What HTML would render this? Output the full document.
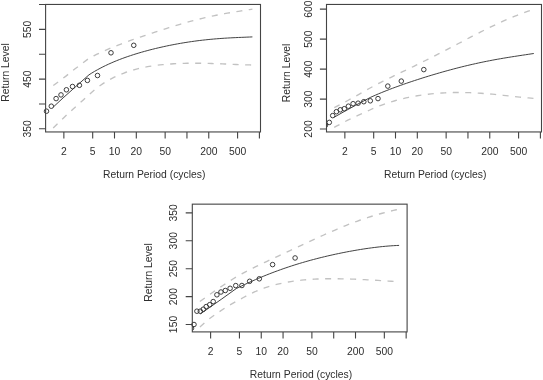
<!DOCTYPE html>
<html lang="en">
<head>
<meta charset="utf-8">
<title>Return level plots</title>
<style>
html,body{margin:0;padding:0;background:#fff;}
body{width:543px;height:380px;overflow:hidden;}
svg{font-family:"Liberation Sans",sans-serif;}
.t{font-size:10.35px;fill:#2e2e2e;}
.ax{fill:none;stroke:#444;stroke-width:1.1;}
.fit{fill:none;stroke:#383838;stroke-width:0.95;stroke-linejoin:round;}
.ci{fill:none;stroke:#c2c2c2;stroke-width:1.35;stroke-dasharray:6 6.5;stroke-linejoin:round;}
.pt{fill:none;stroke:#333;stroke-width:0.95;}
</style>
</head>
<body>
<svg width="543" height="380" viewBox="0 0 543 380" style="display:block">
<rect width="543" height="380" fill="#ffffff"/>
<defs>
<clipPath id="cp0"><rect x="45.6" y="4.45" width="214.90" height="127.50"/></clipPath>
<clipPath id="cp1"><rect x="326.5" y="4.45" width="215.00" height="127.50"/></clipPath>
<clipPath id="cp2"><rect x="192.3" y="204.15" width="214.80" height="127.75"/></clipPath>
</defs>
<g class="panel" id="panel1">
<path class="ci" d="M53.30 85.50 L65.60 76.40 L75.10 68.80 L88.20 58.90 L90.98 57.35 L93.77 55.87 L96.55 54.46 L99.33 53.11 L102.12 51.81 L104.90 50.56 L107.68 49.35 L110.46 48.18 L113.25 47.04 L116.03 45.93 L118.81 44.85 L121.60 43.79 L124.38 42.75 L127.16 41.73 L129.95 40.72 L132.73 39.72 L135.51 38.74 L138.29 37.77 L141.08 36.80 L143.86 35.85 L146.64 34.90 L149.43 33.97 L152.21 33.04 L154.99 32.12 L157.78 31.21 L160.56 30.30 L163.34 29.41 L166.13 28.53 L168.91 27.65 L171.69 26.79 L174.47 25.94 L177.26 25.11 L180.04 24.29 L182.82 23.48 L185.61 22.69 L188.39 21.92 L191.17 21.17 L193.96 20.43 L196.74 19.71 L199.52 19.02 L202.31 18.34 L205.09 17.69 L207.87 17.05 L210.65 16.44 L213.44 15.85 L216.22 15.28 L219.00 14.73 L221.79 14.19 L224.57 13.68 L227.35 13.18 L230.14 12.70 L232.92 12.23 L235.70 11.78 L238.48 11.33 L241.27 10.88 L244.05 10.44 L246.83 10.00 L249.62 9.56 L252.40 9.10"/>
<path class="ci" d="M53.20 127.90 L64.30 117.20 L73.20 108.90 L82.70 100.50 L92.10 91.90 L94.82 89.62 L97.53 87.48 L100.25 85.49 L102.96 83.63 L105.68 81.90 L108.39 80.29 L111.11 78.79 L113.82 77.40 L116.54 76.10 L119.25 74.90 L121.97 73.79 L124.68 72.76 L127.40 71.81 L130.11 70.93 L132.83 70.12 L135.54 69.37 L138.26 68.68 L140.97 68.05 L143.69 67.47 L146.41 66.94 L149.12 66.46 L151.84 66.02 L154.55 65.62 L157.27 65.26 L159.98 64.94 L162.70 64.65 L165.41 64.39 L168.13 64.16 L170.84 63.96 L173.56 63.79 L176.27 63.64 L178.99 63.52 L181.70 63.42 L184.42 63.34 L187.13 63.28 L189.85 63.24 L192.56 63.22 L195.28 63.21 L197.99 63.23 L200.71 63.25 L203.43 63.29 L206.14 63.35 L208.86 63.41 L211.57 63.49 L214.29 63.58 L217.00 63.67 L219.72 63.77 L222.43 63.88 L225.15 63.99 L227.86 64.11 L230.58 64.23 L233.29 64.35 L236.01 64.46 L238.72 64.58 L241.44 64.68 L244.15 64.78 L246.87 64.87 L249.58 64.94 L252.30 65.00"/>
<path class="fit" d="M53.30 107.00 L63.10 97.90 L74.40 87.80 L89.00 74.80 L91.77 73.06 L94.54 71.40 L97.31 69.83 L100.08 68.33 L102.85 66.90 L105.62 65.54 L108.39 64.24 L111.16 63.00 L113.93 61.81 L116.69 60.67 L119.46 59.57 L122.23 58.52 L125.00 57.51 L127.77 56.54 L130.54 55.61 L133.31 54.71 L136.08 53.84 L138.85 53.00 L141.62 52.19 L144.39 51.41 L147.16 50.66 L149.93 49.92 L152.70 49.22 L155.47 48.53 L158.24 47.87 L161.01 47.24 L163.78 46.62 L166.55 46.02 L169.32 45.45 L172.08 44.90 L174.85 44.36 L177.62 43.85 L180.39 43.36 L183.16 42.89 L185.93 42.44 L188.70 42.01 L191.47 41.60 L194.24 41.21 L197.01 40.84 L199.78 40.49 L202.55 40.17 L205.32 39.86 L208.09 39.57 L210.86 39.30 L213.63 39.05 L216.40 38.81 L219.17 38.60 L221.94 38.40 L224.71 38.21 L227.47 38.04 L230.24 37.89 L233.01 37.74 L235.78 37.61 L238.55 37.48 L241.32 37.36 L244.09 37.25 L246.86 37.13 L249.63 37.02 L252.40 36.90"/>
<circle class="pt" cx="46.5" cy="111.2" r="2.28"/>
<circle class="pt" cx="51.3" cy="106.2" r="2.28"/>
<circle class="pt" cx="56.1" cy="98.6" r="2.28"/>
<circle class="pt" cx="61.0" cy="94.9" r="2.28"/>
<circle class="pt" cx="66.4" cy="89.8" r="2.28"/>
<circle class="pt" cx="72.5" cy="86.5" r="2.28"/>
<circle class="pt" cx="79.4" cy="85.3" r="2.28"/>
<circle class="pt" cx="87.4" cy="80.4" r="2.28"/>
<circle class="pt" cx="97.5" cy="75.5" r="2.28"/>
<circle class="pt" cx="111.0" cy="52.8" r="2.28"/>
<circle class="pt" cx="133.75" cy="45.3" r="2.28"/>
<rect class="ax" x="45.6" y="4.45" width="214.90" height="127.50"/>
<path class="ax" d="M63.86 131.95 V138.45 M92.69 131.95 V138.45 M114.50 131.95 V138.45 M136.31 131.95 V138.45 M165.14 131.95 V138.45 M186.95 131.95 V138.45 M208.76 131.95 V138.45 M237.59 131.95 V138.45 M259.40 131.95 V138.45 M45.6 128.80 H39.00 M45.6 103.95 H39.00 M45.6 79.10 H39.00 M45.6 54.20 H39.00 M45.6 29.35 H39.00 M45.6 4.50 H39.00"/>
<text class="t" x="63.86" y="154.75" text-anchor="middle">2</text>
<text class="t" x="92.69" y="154.75" text-anchor="middle">5</text>
<text class="t" x="114.50" y="154.75" text-anchor="middle">10</text>
<text class="t" x="136.31" y="154.75" text-anchor="middle">20</text>
<text class="t" x="165.14" y="154.75" text-anchor="middle">50</text>
<text class="t" x="208.76" y="154.75" text-anchor="middle">200</text>
<text class="t" x="237.59" y="154.75" text-anchor="middle">500</text>
<text class="t" transform="translate(30.60 128.80) rotate(-90)" text-anchor="middle">350</text>
<text class="t" transform="translate(30.60 79.10) rotate(-90)" text-anchor="middle">450</text>
<text class="t" transform="translate(30.60 29.35) rotate(-90)" text-anchor="middle">550</text>
<text class="t" x="154.20" y="177.50" text-anchor="middle">Return Period (cycles)</text>
<text class="t" transform="translate(9.35 72.50) rotate(-90)" text-anchor="middle">Return Level</text>
</g>
<g class="panel" id="panel2">
<path class="ci" d="M334.30 107.70 L347.80 100.50 L358.50 94.60 L369.20 88.50 L371.99 86.97 L374.78 85.48 L377.57 84.02 L380.36 82.59 L383.15 81.18 L385.94 79.79 L388.73 78.41 L391.52 77.05 L394.31 75.70 L397.10 74.35 L399.89 73.01 L402.68 71.66 L405.47 70.32 L408.26 68.97 L411.05 67.62 L413.84 66.27 L416.63 64.90 L419.42 63.53 L422.21 62.15 L425.00 60.76 L427.79 59.37 L430.58 57.96 L433.37 56.54 L436.16 55.12 L438.95 53.69 L441.74 52.25 L444.53 50.80 L447.32 49.35 L450.11 47.89 L452.89 46.43 L455.68 44.97 L458.47 43.50 L461.26 42.03 L464.05 40.57 L466.84 39.11 L469.63 37.65 L472.42 36.20 L475.21 34.76 L478.00 33.33 L480.79 31.91 L483.58 30.50 L486.37 29.11 L489.16 27.74 L491.95 26.38 L494.74 25.04 L497.53 23.73 L500.32 22.44 L503.11 21.18 L505.90 19.94 L508.69 18.74 L511.48 17.56 L514.27 16.42 L517.06 15.31 L519.85 14.23 L522.64 13.19 L525.43 12.19 L528.22 11.22 L531.01 10.29 L533.80 9.40"/>
<path class="ci" d="M334.20 127.40 L336.40 126.20 L347.80 120.10 L358.50 115.10 L369.90 110.00 L372.68 108.73 L375.46 107.52 L378.23 106.38 L381.01 105.30 L383.79 104.28 L386.57 103.32 L389.35 102.40 L392.12 101.54 L394.90 100.73 L397.68 99.96 L400.46 99.24 L403.24 98.56 L406.01 97.93 L408.79 97.33 L411.57 96.78 L414.35 96.26 L417.13 95.78 L419.90 95.33 L422.68 94.93 L425.46 94.55 L428.24 94.21 L431.02 93.90 L433.79 93.62 L436.57 93.38 L439.35 93.17 L442.13 92.98 L444.91 92.83 L447.68 92.70 L450.46 92.61 L453.24 92.54 L456.02 92.50 L458.79 92.49 L461.57 92.50 L464.35 92.54 L467.13 92.61 L469.91 92.70 L472.68 92.81 L475.46 92.95 L478.24 93.11 L481.02 93.29 L483.80 93.49 L486.57 93.70 L489.35 93.94 L492.13 94.19 L494.91 94.45 L497.69 94.73 L500.46 95.02 L503.24 95.32 L506.02 95.62 L508.80 95.92 L511.58 96.23 L514.35 96.54 L517.13 96.84 L519.91 97.14 L522.69 97.43 L525.47 97.70 L528.24 97.95 L531.02 98.19 L533.80 98.40"/>
<path class="fit" d="M334.40 117.10 L344.10 111.60 L355.40 105.40 L370.20 97.50 L372.97 96.25 L375.75 95.03 L378.52 93.84 L381.29 92.69 L384.06 91.57 L386.84 90.47 L389.61 89.39 L392.38 88.34 L395.16 87.31 L397.93 86.30 L400.70 85.30 L403.47 84.32 L406.25 83.36 L409.02 82.41 L411.79 81.48 L414.57 80.56 L417.34 79.66 L420.11 78.77 L422.88 77.89 L425.66 77.02 L428.43 76.16 L431.20 75.32 L433.98 74.49 L436.75 73.67 L439.52 72.87 L442.29 72.07 L445.07 71.29 L447.84 70.53 L450.61 69.77 L453.39 69.03 L456.16 68.30 L458.93 67.59 L461.71 66.89 L464.48 66.21 L467.25 65.54 L470.02 64.89 L472.80 64.25 L475.57 63.63 L478.34 63.02 L481.12 62.43 L483.89 61.85 L486.66 61.29 L489.43 60.75 L492.21 60.21 L494.98 59.70 L497.75 59.20 L500.53 58.71 L503.30 58.23 L506.07 57.77 L508.84 57.32 L511.62 56.87 L514.39 56.44 L517.16 56.01 L519.94 55.59 L522.71 55.17 L525.48 54.76 L528.25 54.34 L531.03 53.92 L533.80 53.50"/>
<circle class="pt" cx="329.3" cy="122.4" r="2.28"/>
<circle class="pt" cx="332.7" cy="115.6" r="2.28"/>
<circle class="pt" cx="336.4" cy="111.7" r="2.28"/>
<circle class="pt" cx="340.3" cy="109.8" r="2.28"/>
<circle class="pt" cx="344.3" cy="108.7" r="2.28"/>
<circle class="pt" cx="348.4" cy="106.2" r="2.28"/>
<circle class="pt" cx="353.1" cy="103.7" r="2.28"/>
<circle class="pt" cx="358.1" cy="103.2" r="2.28"/>
<circle class="pt" cx="363.8" cy="101.7" r="2.28"/>
<circle class="pt" cx="370.3" cy="100.8" r="2.28"/>
<circle class="pt" cx="378.0" cy="98.6" r="2.28"/>
<circle class="pt" cx="387.8" cy="86.1" r="2.28"/>
<circle class="pt" cx="401.3" cy="81.1" r="2.28"/>
<circle class="pt" cx="423.8" cy="69.6" r="2.28"/>
<g clip-path="url(#cp1)">
<circle class="pt" cx="325.5" cy="125.1" r="2.28"/>
</g>
<rect class="ax" x="326.5" y="4.45" width="215.00" height="127.50"/>
<path class="ax" d="M344.86 131.95 V138.45 M373.69 131.95 V138.45 M395.50 131.95 V138.45 M417.31 131.95 V138.45 M446.14 131.95 V138.45 M467.95 131.95 V138.45 M489.76 131.95 V138.45 M518.59 131.95 V138.45 M540.40 131.95 V138.45 M326.5 129.00 H319.90 M326.5 99.10 H319.90 M326.5 69.10 H319.90 M326.5 39.10 H319.90 M326.5 9.10 H319.90"/>
<text class="t" x="344.86" y="154.75" text-anchor="middle">2</text>
<text class="t" x="373.69" y="154.75" text-anchor="middle">5</text>
<text class="t" x="395.50" y="154.75" text-anchor="middle">10</text>
<text class="t" x="417.31" y="154.75" text-anchor="middle">20</text>
<text class="t" x="446.14" y="154.75" text-anchor="middle">50</text>
<text class="t" x="489.76" y="154.75" text-anchor="middle">200</text>
<text class="t" x="518.59" y="154.75" text-anchor="middle">500</text>
<text class="t" transform="translate(311.60 129.00) rotate(-90)" text-anchor="middle">200</text>
<text class="t" transform="translate(311.60 99.10) rotate(-90)" text-anchor="middle">300</text>
<text class="t" transform="translate(311.60 69.10) rotate(-90)" text-anchor="middle">400</text>
<text class="t" transform="translate(311.60 39.10) rotate(-90)" text-anchor="middle">500</text>
<text class="t" transform="translate(311.60 9.10) rotate(-90)" text-anchor="middle">600</text>
<text class="t" x="435.20" y="177.50" text-anchor="middle">Return Period (cycles)</text>
<text class="t" transform="translate(290.30 72.90) rotate(-90)" text-anchor="middle">Return Level</text>
</g>
<g class="panel" id="panel3">
<path class="ci" d="M199.90 301.50 L212.20 292.70 L222.50 285.70 L233.30 278.75 L236.11 277.07 L238.92 275.45 L241.73 273.88 L244.54 272.36 L247.35 270.89 L250.16 269.44 L252.97 268.04 L255.78 266.65 L258.59 265.29 L261.40 263.94 L264.21 262.61 L267.02 261.29 L269.83 259.98 L272.64 258.67 L275.45 257.37 L278.26 256.07 L281.07 254.76 L283.88 253.46 L286.69 252.16 L289.50 250.85 L292.31 249.55 L295.12 248.24 L297.93 246.93 L300.74 245.62 L303.55 244.31 L306.36 243.00 L309.17 241.70 L311.98 240.39 L314.79 239.10 L317.61 237.80 L320.42 236.52 L323.23 235.24 L326.04 233.98 L328.85 232.73 L331.66 231.49 L334.47 230.27 L337.28 229.07 L340.09 227.88 L342.90 226.72 L345.71 225.58 L348.52 224.46 L351.33 223.37 L354.14 222.30 L356.95 221.26 L359.76 220.25 L362.57 219.27 L365.38 218.32 L368.19 217.40 L371.00 216.51 L373.81 215.65 L376.62 214.82 L379.43 214.02 L382.24 213.25 L385.05 212.50 L387.86 211.78 L390.67 211.08 L393.48 210.40 L396.29 209.74 L399.10 209.10"/>
<path class="ci" d="M199.90 327.00 L208.30 319.50 L218.40 312.30 L228.50 305.70 L243.40 297.50 L246.04 296.04 L248.68 294.66 L251.32 293.36 L253.96 292.14 L256.59 291.00 L259.23 289.93 L261.87 288.92 L264.51 287.98 L267.15 287.10 L269.79 286.28 L272.43 285.52 L275.07 284.81 L277.71 284.15 L280.35 283.54 L282.98 282.98 L285.62 282.46 L288.26 281.98 L290.90 281.55 L293.54 281.15 L296.18 280.79 L298.82 280.47 L301.46 280.17 L304.10 279.91 L306.74 279.68 L309.37 279.48 L312.01 279.30 L314.65 279.15 L317.29 279.03 L319.93 278.92 L322.57 278.84 L325.21 278.78 L327.85 278.74 L330.49 278.72 L333.13 278.71 L335.76 278.73 L338.40 278.75 L341.04 278.80 L343.68 278.85 L346.32 278.92 L348.96 279.00 L351.60 279.09 L354.24 279.19 L356.88 279.31 L359.52 279.43 L362.15 279.55 L364.79 279.69 L367.43 279.83 L370.07 279.98 L372.71 280.13 L375.35 280.28 L377.99 280.44 L380.63 280.60 L383.27 280.76 L385.91 280.92 L388.54 281.08 L391.18 281.24 L393.82 281.40 L396.46 281.55 L399.10 281.70"/>
<path class="fit" d="M200.20 314.00 L209.85 307.30 L221.15 299.40 L236.20 288.60 L238.96 287.25 L241.72 285.92 L244.48 284.61 L247.24 283.32 L250.01 282.06 L252.77 280.82 L255.53 279.60 L258.29 278.41 L261.05 277.25 L263.81 276.10 L266.57 274.98 L269.33 273.89 L272.09 272.82 L274.85 271.77 L277.62 270.75 L280.38 269.75 L283.14 268.78 L285.90 267.83 L288.66 266.90 L291.42 265.99 L294.18 265.10 L296.94 264.24 L299.70 263.40 L302.46 262.58 L305.23 261.78 L307.99 260.99 L310.75 260.23 L313.51 259.49 L316.27 258.76 L319.03 258.06 L321.79 257.37 L324.55 256.70 L327.31 256.04 L330.07 255.41 L332.84 254.79 L335.60 254.18 L338.36 253.60 L341.12 253.03 L343.88 252.47 L346.64 251.93 L349.40 251.41 L352.16 250.91 L354.92 250.42 L357.68 249.95 L360.45 249.49 L363.21 249.06 L365.97 248.64 L368.73 248.24 L371.49 247.86 L374.25 247.50 L377.01 247.17 L379.77 246.85 L382.53 246.56 L385.29 246.30 L388.06 246.06 L390.82 245.85 L393.58 245.67 L396.34 245.52 L399.10 245.40"/>
<circle class="pt" cx="194.0" cy="324.5" r="2.28"/>
<circle class="pt" cx="196.9" cy="311.2" r="2.28"/>
<circle class="pt" cx="200.3" cy="311.2" r="2.28"/>
<circle class="pt" cx="203.3" cy="309.2" r="2.28"/>
<circle class="pt" cx="206.2" cy="306.6" r="2.28"/>
<circle class="pt" cx="209.7" cy="304.7" r="2.28"/>
<circle class="pt" cx="213.2" cy="301.6" r="2.28"/>
<circle class="pt" cx="216.9" cy="294.8" r="2.28"/>
<circle class="pt" cx="220.95" cy="292.0" r="2.28"/>
<circle class="pt" cx="225.3" cy="290.5" r="2.28"/>
<circle class="pt" cx="230.1" cy="288.3" r="2.28"/>
<circle class="pt" cx="235.75" cy="285.6" r="2.28"/>
<circle class="pt" cx="241.9" cy="285.5" r="2.28"/>
<circle class="pt" cx="249.65" cy="281.3" r="2.28"/>
<circle class="pt" cx="259.3" cy="278.8" r="2.28"/>
<circle class="pt" cx="272.6" cy="264.6" r="2.28"/>
<circle class="pt" cx="295.1" cy="257.95" r="2.28"/>
<g clip-path="url(#cp2)">
<circle class="pt" cx="191.5" cy="328.2" r="2.28"/>
</g>
<rect class="ax" x="192.3" y="204.15" width="214.80" height="127.75"/>
<path class="ax" d="M210.61 331.9 V338.40 M239.44 331.9 V338.40 M261.25 331.9 V338.40 M283.06 331.9 V338.40 M311.89 331.9 V338.40 M333.70 331.9 V338.40 M355.51 331.9 V338.40 M384.34 331.9 V338.40 M406.15 331.9 V338.40 M192.3 324.50 H185.70 M192.3 296.60 H185.70 M192.3 268.70 H185.70 M192.3 240.75 H185.70 M192.3 212.90 H185.70"/>
<text class="t" x="210.61" y="354.50" text-anchor="middle">2</text>
<text class="t" x="239.44" y="354.50" text-anchor="middle">5</text>
<text class="t" x="261.25" y="354.50" text-anchor="middle">10</text>
<text class="t" x="283.06" y="354.50" text-anchor="middle">20</text>
<text class="t" x="311.89" y="354.50" text-anchor="middle">50</text>
<text class="t" x="355.51" y="354.50" text-anchor="middle">200</text>
<text class="t" x="384.34" y="354.50" text-anchor="middle">500</text>
<text class="t" transform="translate(177.00 324.50) rotate(-90)" text-anchor="middle">150</text>
<text class="t" transform="translate(177.00 296.60) rotate(-90)" text-anchor="middle">200</text>
<text class="t" transform="translate(177.00 268.70) rotate(-90)" text-anchor="middle">250</text>
<text class="t" transform="translate(177.00 240.75) rotate(-90)" text-anchor="middle">300</text>
<text class="t" transform="translate(177.00 212.90) rotate(-90)" text-anchor="middle">350</text>
<text class="t" x="301.00" y="377.60" text-anchor="middle">Return Period (cycles)</text>
<text class="t" transform="translate(152.00 272.50) rotate(-90)" text-anchor="middle">Return Level</text>
</g>
</svg>
</body>
</html>
